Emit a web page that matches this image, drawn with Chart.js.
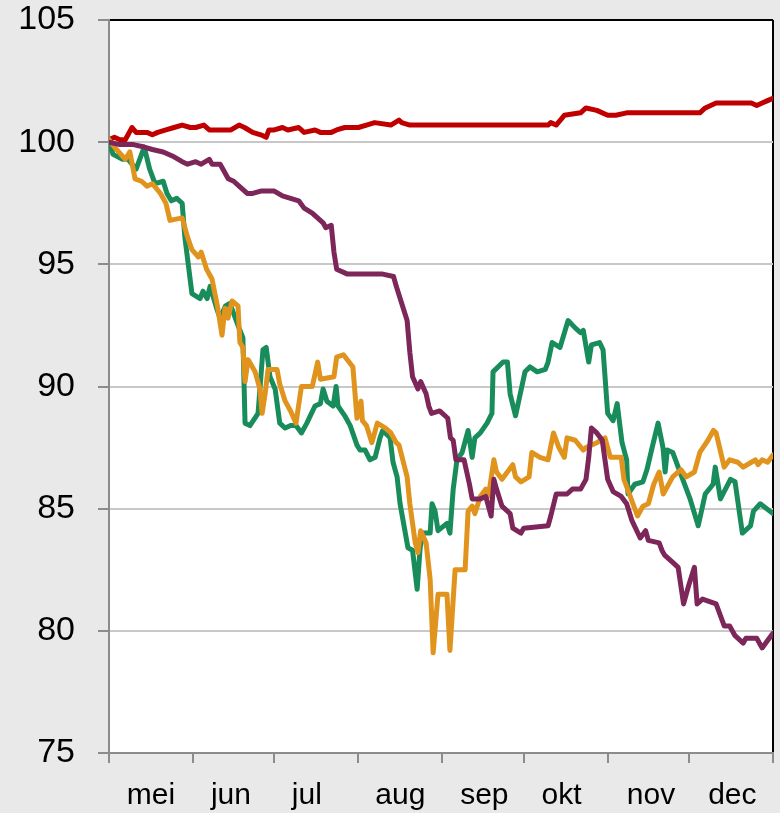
<!DOCTYPE html>
<html>
<head>
<meta charset="utf-8">
<script src="https://cdn.jsdelivr.net/npm/chart.js@4/dist/chart.umd.min.js"></script>
<style>
    html, body { margin: 0; padding: 0; background: #e9e9e9; }
    canvas { display: block; }
</style>
</head>
<body>
<canvas id="chart" width="780" height="813"></canvas>
<script>
// x positions are day-of-year (1 May = 121, 31 Dec = 366)
const monthLabels = ['mei', 'jun', 'jul', 'aug', 'sep', 'okt', 'nov', 'dec'];
const monthStartDays = [121, 152, 182, 213, 244, 274, 305, 335, 366];
const monthLabelDays = [136.5, 166, 194, 228.5, 259.5, 288, 321, 351];
const yTicks = [75, 80, 85, 90, 95, 100, 105];

const redDays = [121,123,125,127,129.5,131,134,135,137,139,142,145,148,151,153,156,158,161,166,169,171,174,177,179,180,182,185,187,191,193,197,199,203,205,208,213,216,219,225,228,229,232,235,239,242,254,266,276,283,284,286,289,295,297,301,305,308,312,317,322,324,339,341,345,358,360,362,364,366];
const redValues = [100.1,100.2,100.1,100.1,100.6,100.4,100.4,100.4,100.3,100.4,100.5,100.6,100.7,100.6,100.6,100.7,100.5,100.5,100.5,100.7,100.6,100.4,100.3,100.2,100.5,100.5,100.6,100.5,100.6,100.4,100.5,100.4,100.4,100.5,100.6,100.6,100.7,100.8,100.7,100.9,100.8,100.7,100.7,100.7,100.7,100.7,100.7,100.7,100.7,100.8,100.7,101.1,101.2,101.4,101.3,101.1,101.1,101.2,101.2,101.2,101.2,101.2,101.4,101.6,101.6,101.5,101.6,101.7,101.8];

const purpleDays = [121,125,130,134,137,141,145,148,150,153,155,158,159,162,163,165,167,169,172,174,177,182,185,191,193,196,200,201,203,204,205,209,215,222,226,227,231,232,233,235,236,238,239,240,243,246,247,248,249,252,254,255,258,260,262,263,264,266,269,270,273,274,283,284,286,290,292,295,297,298,299,301,303,305,307,310,312,314,317,319,320,324,325,326,329,331,333,335,337,338,340,345,348,350,352,355,356,360,362,364,366];
const purpleValues = [100.0,99.9,99.9,99.8,99.7,99.6,99.4,99.2,99.1,99.2,99.1,99.3,99.1,99.1,98.9,98.5,98.4,98.2,97.9,97.9,98.0,98.0,97.8,97.6,97.3,97.1,96.7,96.5,96.6,95.5,94.8,94.6,94.6,94.6,94.5,94.1,92.7,91.4,90.4,89.9,90.2,89.7,89.2,88.9,89.0,88.7,87.9,87.8,87.0,87.0,86.0,85.4,85.4,85.5,84.7,86.2,85.8,85.1,84.8,84.2,84.0,84.2,84.3,84.7,85.6,85.6,85.8,85.8,86.2,87.1,88.3,88.1,87.8,86.2,85.7,85.5,85.2,84.5,83.8,84.1,83.7,83.6,83.3,83.1,82.8,82.6,81.1,81.9,82.6,81.1,81.3,81.1,80.2,80.2,79.8,79.5,79.7,79.7,79.3,79.6,79.9];

const greenDays = [121,122.5,126,128,131,134,136,138,141,142.4,144,146,148,149,151.6,154.6,155.7,157.2,158.3,161,162,164,165.6,169.3,170.4,171.2,173,176,177.8,179,180.4,182.3,184,186,188,190,192,194,197,199,200,201.4,203.7,204.8,205.5,208,210,212.5,213.6,215.5,217.3,219.2,221,222,224.7,225.8,227.3,228.4,231.3,233,234.7,235.8,236.9,239.5,240.2,241.3,242.4,245.7,246.8,248,249.4,251.3,253.5,255,256,258,260.5,262.3,262.7,266.4,268,269,271,274.5,276.3,279,282,283,284.5,287.4,290.4,293,295,296,298,299,302,303.3,305,307,308.5,310.3,312,312.5,315,318,319.5,321.4,323.6,325.4,326.2,327,329,331.7,335.4,338.4,341,343.9,344.7,346.6,350.3,352,354.7,357.7,358.8,361.3,366];
const greenValues = [100.0,99.5,99.3,99.3,98.9,99.8,98.9,98.3,98.4,97.9,97.6,97.7,97.5,96.1,93.8,93.6,93.9,93.6,94.1,93.1,92.8,93.3,93.4,92.3,92.0,88.5,88.4,88.9,91.5,91.6,90.4,89.9,88.5,88.3,88.4,88.4,88.1,88.5,89.2,89.3,89.9,89.4,89.2,90.0,89.2,88.8,88.4,87.6,87.4,87.4,87.0,87.1,87.9,88.2,87.9,86.9,86.3,85.2,83.4,83.3,81.7,83.4,84.0,84.0,85.2,84.9,84.1,84.4,84.0,85.8,87.0,87.3,88.2,87.1,87.9,88.1,88.5,88.9,90.6,91.0,91.0,89.7,88.8,90.6,90.8,90.6,90.7,91.0,91.8,91.6,92.7,92.4,92.2,92.3,91.0,91.7,91.8,91.5,88.9,88.6,89.3,87.7,87.0,85.6,86.0,86.1,86.6,87.5,88.5,87.5,86.5,87.4,87.3,86.5,85.4,84.3,85.6,86.0,86.7,85.4,86.2,86.1,84.0,84.3,84.9,85.2,84.8];

const orangeDays = [121,123,127,128.7,130.6,133,135,137,140,142,143.5,148,150,151.6,154,155,157,159,161,162.7,163.8,164.9,166.4,168.6,169.3,170.4,171.2,172.3,174.9,176.7,177.5,178.6,179.7,183,184,186,188,190,192,194,196,198,199,204,205,207.5,211,212.5,214,214.5,216,218,220,223,225,227,228,231,232,234,235,236,238,239.5,240.6,242.4,245.7,246.8,248.7,252.4,253.5,255,256,258,260,261,263,264,266,268,270,271,273,276,277,280,283,285,287,289,290,293,296,297,301,304,306,310,311,313,316,318,320,322,324,325.5,329,332,334,337,339,342,344,345,348,350,353,355,358,359.5,360.5,362,364,366];
const orangeValues = [100.1,99.8,99.3,99.6,98.5,98.4,98.2,98.3,97.9,97.5,96.8,96.9,96.1,95.6,95.3,95.5,94.8,94.4,93.3,92.1,93.2,92.8,93.5,93.3,91.8,91.6,90.2,91.1,90.6,89.9,88.9,89.7,90.7,90.7,90.1,89.4,89.0,88.5,90.0,90.0,90.0,91.0,90.3,90.4,91.2,91.3,90.8,88.7,89.4,88.6,88.4,87.7,88.5,88.3,88.1,87.7,87.6,86.3,85.2,83.6,83.2,84.1,83.6,82.1,79.1,81.5,81.5,79.2,82.5,82.5,84.9,85.1,84.8,85.5,85.8,85.5,87.0,86.5,86.2,86.5,86.8,86.3,86.1,86.3,87.3,87.1,87.0,88.1,87.5,87.1,87.9,87.8,87.4,87.5,87.7,87.9,87.1,87.1,86.2,85.6,84.7,85.1,85.2,86.0,86.5,85.6,86.3,86.6,86.3,86.5,87.3,87.8,88.2,88.1,86.7,87.0,86.9,86.7,86.9,87.0,86.8,87.0,86.9,87.2];

const toPoints = (days, values) => days.map((d, i) => ({ x: d, y: values[i] }));

const FONT = "'Liberation Sans', Arial, sans-serif";

// white plot area on grey page
const plotBackground = {
    id: 'plotBackground',
    beforeDraw(chart) {
        const { ctx, chartArea } = chart;
        ctx.save();
        ctx.fillStyle = '#ffffff';
        ctx.fillRect(chartArea.left, chartArea.top, chartArea.right - chartArea.left, chartArea.bottom - chartArea.top);
        ctx.restore();
    }
};

function lineSet(days, values, color, order) {
    return {
        data: toPoints(days, values),
        borderColor: color,
        backgroundColor: color,
        borderWidth: 5,
        pointRadius: 0,
        tension: 0,
        borderJoinStyle: 'round',
        borderCapStyle: 'round',
        order: order
    };
}

new Chart(document.getElementById('chart'), {
    type: 'line',
    data: {
        datasets: [
            lineSet(purpleDays, purpleValues, '#7D2659', 1),
            lineSet(orangeDays, orangeValues, '#E0941E', 2),
            lineSet(greenDays, greenValues, '#188C5A', 3),
            lineSet(redDays, redValues, '#C00000', 4)
        ]
    },
    options: {
        responsive: false,
        devicePixelRatio: 1,
        animation: false,
        layout: { padding: 0 },
        plugins: {
            legend: { display: false },
            tooltip: { enabled: false }
        },
        scales: {
            x: {
                type: 'linear',
                min: monthStartDays[0],
                max: monthStartDays[monthStartDays.length - 1],
                afterBuildTicks: (scale) => {
                    scale.ticks = monthStartDays.concat(monthLabelDays)
                        .sort((a, b) => a - b)
                        .map(v => ({ value: v }));
                },
                afterFit: (scale) => {
                    scale.height = 60;
                    scale.paddingLeft = 0;
                    scale.paddingRight = 7;
                },
                ticks: {
                    autoSkip: false,
                    maxRotation: 0,
                    padding: 18,
                    color: '#000',
                    font: { family: FONT, size: 30, lineHeight: 1 },
                    callback: (value) => {
                        const i = monthLabelDays.indexOf(value);
                        return i >= 0 ? monthLabels[i] : '';
                    }
                },
                grid: {
                    drawOnChartArea: true,
                    lineWidth: 2,
                    tickLength: 10,
                    color: (c) => (c.tick && c.tick.value === 366 ? '#000000' : 'rgba(0,0,0,0)'),
                    tickColor: (c) => (c.tick && monthStartDays.includes(c.tick.value) ? '#8c8c8c' : 'rgba(0,0,0,0)')
                },
                border: { color: '#8c8c8c', width: 2 }
            },
            y: {
                min: 75,
                max: 105,
                afterBuildTicks: (scale) => {
                    scale.ticks = yTicks.map(v => ({ value: v }));
                },
                afterFit: (scale) => {
                    scale.width = 109;
                    scale.paddingTop = 20;
                    scale.paddingBottom = 0;
                },
                ticks: {
                    padding: 23,
                    color: '#000',
                    font: { family: FONT, size: 34, lineHeight: 1 }
                },
                grid: {
                    lineWidth: 2,
                    tickLength: 11,
                    color: (c) => {
                        if (!c.tick) return 'rgba(0,0,0,0)';
                        if (c.tick.value === 105) return '#000000';
                        if (c.tick.value === 75) return 'rgba(0,0,0,0)';
                        return '#c8c8c8';
                    },
                    tickColor: '#8c8c8c'
                },
                border: { color: '#8c8c8c', width: 2 }
            }
        }
    },
    plugins: [plotBackground]
});
</script>
</body>
</html>
